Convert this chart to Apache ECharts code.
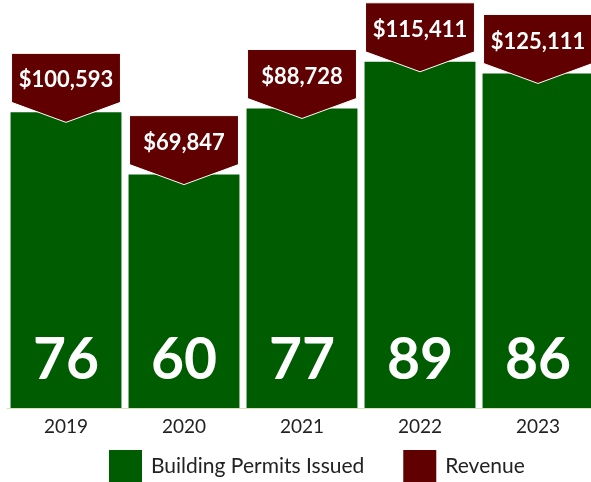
<!DOCTYPE html>
<html>
<head>
<meta charset="utf-8">
<script src="https://cdn.jsdelivr.net/npm/echarts@6/dist/echarts.min.js"></script>
<style>
  html, body { margin: 0; padding: 0; background: #fff; overflow: hidden; }
  #chart { width: 600px; height: 482px; }
</style>
</head>
<body>
<div id="chart"></div>
<script>
const years = ['2019', '2020', '2021', '2022', '2023'];
const permits = [76, 60, 77, 89, 86];
const revenue = [100593, 69847, 88728, 115411, 125111];

const green = '#005c00';
const red = '#600000';

var dom = document.getElementById('chart');
var myChart = echarts.init(dom, null, { renderer: 'canvas' });

// custom series rows: [category index, permits, revenue]
var tagData = years.map(function (y, i) { return [i, permits[i], revenue[i]]; });

function fmt(v) {
  return '$' + v.toLocaleString('en-US');
}

// the little arrow tag sitting on top of each bar
function renderTag(params, api) {
  var top = api.coord([api.value(0), api.value(1)]);
  var band = api.size([1, 0])[0];
  var w = band * 0.94 - 2;
  var cx = top[0], y = top[1];
  var l = cx - w / 2, r = cx + w / 2;
  return {
    type: 'group',
    children: [
      {
        type: 'polygon',
        shape: { points: [[l, y - 59], [r, y - 59], [r, y - 10], [cx, y + 10], [l, y - 10]] },
        style: { fill: red, stroke: '#fff', lineWidth: 1 }
      },
      {
        type: 'text',
        style: {
          text: fmt(api.value(2)),
          x: cx, y: y - 32,
          fill: '#fff',
          font: 'bold 22px Lato',
          align: 'center',
          verticalAlign: 'middle'
        }
      }
    ]
  };
}

var option = {
  animation: false,
  grid: { left: 7, top: 19, width: 590, height: 389 },
  legend: {
    left: 109,
    top: 450,
    padding: 0,
    itemWidth: 33,
    itemHeight: 32,
    itemGap: 39,
    icon: 'rect',
    textStyle: { fontFamily: 'Lato', fontSize: 21, color: '#222', padding: [0, 0, 0, 4] },
    data: ['Building Permits Issued', 'Revenue']
  },
  xAxis: {
    type: 'category',
    data: years,
    axisTick: { show: false },
    axisLine: { lineStyle: { color: '#d6e3bc', width: 1 } },
    axisLabel: { color: '#222', fontSize: 19, fontFamily: 'Lato', margin: 9 }
  },
  yAxis: { type: 'value', min: 0, max: 100, show: false },
  series: [
    {
      name: 'Building Permits Issued',
      type: 'bar',
      data: permits,
      barWidth: '94%',
      itemStyle: { color: green },
      label: {
        show: true,
        position: 'insideBottom',
        distance: 19,
        color: '#fff',
        fontFamily: 'Lato',
        fontWeight: 'bold',
        fontSize: 57
      }
    },
    {
      name: 'Revenue',
      type: 'custom',
      renderItem: renderTag,
      encode: { x: 0, y: 1 },
      itemStyle: { color: red },
      data: tagData,
      z: 5
    }
  ]
};

option && myChart.setOption(option);
</script>
</body>
</html>
